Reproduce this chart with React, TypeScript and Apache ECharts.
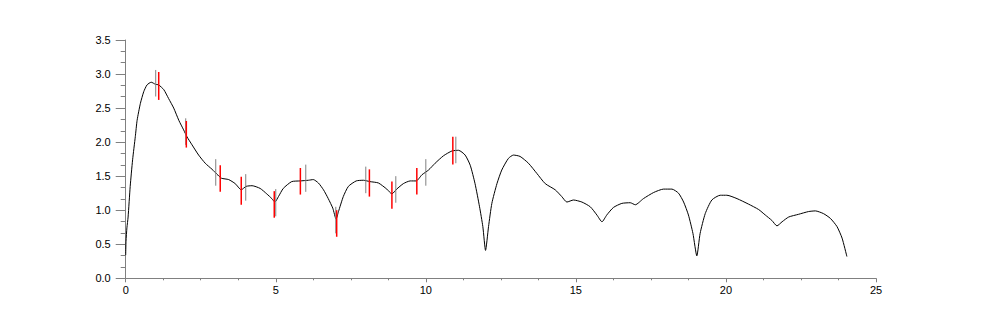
import React, { useEffect, useRef } from "react";
import * as echarts from "echarts";

const curveX = [
  0, 0.01, 0.04, 0.08, 0.15, 0.23, 0.32, 0.38, 0.49, 0.6, 0.71, 0.85, 0.99, 1.1, 1.27, 1.43, 1.6, 1.77, 1.93,
  2.04, 2.21, 2.43, 2.65, 2.88, 3.04, 3.19, 3.43, 3.65, 3.85, 4.01, 4.21, 4.48, 4.7, 4.87, 4.97, 5.09,
  5.25, 5.53, 5.81, 6.09, 6.25, 6.42, 6.59, 6.75, 6.9, 7.01, 7.09, 7.25, 7.42, 7.68, 7.92, 8.14, 8.42,
  8.7, 8.87, 9.03, 9.25, 9.48, 9.68, 9.87, 10.09, 10.31, 10.59, 10.87, 11.09, 11.31, 11.48, 11.64,
  11.79, 11.9, 11.99, 12.09, 12.2, 12.37, 12.53, 12.75, 12.92, 13.14, 13.42, 13.7, 13.98, 14.31,
  14.53, 14.7, 14.92, 15.2, 15.48, 15.7, 15.87, 16.03, 16.25, 16.53, 16.81, 16.98, 17.25, 17.59,
  17.92, 18.2, 18.42, 18.59, 18.75, 18.9, 19.03, 19.14, 19.31, 19.53, 19.81, 20.03, 20.37, 20.75,
  21.09, 21.31, 21.53, 21.7, 21.87, 22.09, 22.42, 22.75, 22.98, 23.25, 23.48, 23.7, 23.87, 24.03,
];
const curveY = [
  0.34, 0.54, 0.74, 0.9, 1.35, 1.74, 2.08, 2.32, 2.57, 2.74, 2.84, 2.88, 2.85, 2.84, 2.77, 2.64, 2.5, 2.32, 2.18,
  2.08, 1.96, 1.81, 1.69, 1.6, 1.53, 1.47, 1.45, 1.39, 1.3, 1.35, 1.36, 1.32, 1.24, 1.17, 1.12, 1.2,
  1.32, 1.42, 1.43, 1.44, 1.45, 1.4, 1.3, 1.17, 1.03, 0.87, 0.98, 1.2, 1.35, 1.43, 1.44, 1.42, 1.4,
  1.31, 1.24, 1.31, 1.39, 1.43, 1.43, 1.52, 1.59, 1.69, 1.8, 1.87, 1.88, 1.81, 1.66, 1.39,
  1.05, 0.76, 0.41, 0.76, 1.1, 1.39, 1.59, 1.76, 1.81, 1.79, 1.69, 1.54, 1.39, 1.3,
  1.2, 1.12, 1.15, 1.12, 1.05, 0.93, 0.83, 0.93, 1.04, 1.1, 1.11, 1.08, 1.17, 1.26,
  1.31, 1.31, 1.25, 1.12, 0.93, 0.66, 0.33, 0.66, 0.95, 1.15, 1.22, 1.22, 1.17, 1.09,
  1.01, 0.93, 0.85, 0.77, 0.83, 0.9, 0.94, 0.98, 0.99, 0.95, 0.88, 0.76, 0.59, 0.32,
];

const grayX = [1, 2, 3, 4, 5, 6, 7, 8, 9, 10, 11];
const grayLow = [2.67, 1.96, 1.36, 1.14, 0.91, 1.27, 0.66, 1.25, 1.11, 1.36, 1.69];
const grayHigh = [3.06, 2.35, 1.75, 1.53, 1.31, 1.67, 1.05, 1.64, 1.5, 1.75, 2.08];

const redX = [1.1, 2.02, 3.15, 3.85, 4.95, 5.82, 7.03, 8.12, 8.87, 9.7, 10.9];
const redLow = [2.62, 1.92, 1.27, 1.08, 0.89, 1.23, 0.61, 1.2, 1.02, 1.23, 1.67];
const redHigh = [3.03, 2.31, 1.66, 1.49, 1.28, 1.62, 1.0, 1.6, 1.42, 1.62, 2.08];

const AXIS = "#808080";
const FONT = "Liberation Sans, Arial, sans-serif";

function errSeries(xs: number[], lo: number[], hi: number[], color: string, width: number) {
  return {
    type: "custom",
    data: xs.map((x, i) => [x, lo[i], hi[i]]),
    encode: { x: 0, y: [1, 2] },
    renderItem: (params: any, api: any) => {
      const p1 = api.coord([api.value(0), api.value(1)]);
      const p2 = api.coord([api.value(0), api.value(2)]);
      return {
        type: "line",
        shape: { x1: p1[0], y1: p1[1], x2: p2[0], y2: p2[1] },
        style: { stroke: color, lineWidth: width },
      };
    },
    z: 3,
  };
}

export default function App() {
  const ref = useRef<HTMLDivElement>(null);
  useEffect(() => {
    if (!ref.current) return;
    const chart = echarts.init(ref.current, undefined, { renderer: "svg" });
    chart.setOption({
      animation: false,
      backgroundColor: "#ffffff",
      grid: { left: 125.7, right: 126, top: 40, bottom: 38.7, containLabel: false },
      xAxis: {
        type: "value",
        min: 0,
        max: 25,
        interval: 5,
        axisLine: { show: true, lineStyle: { color: AXIS, width: 1 } },
        axisTick: { show: true, length: 4, lineStyle: { color: AXIS } },
        minorTick: { show: true, splitNumber: 4, length: 2, lineStyle: { color: AXIS } },
        splitLine: { show: false },
        axisLabel: { color: "#000", fontFamily: FONT, fontSize: 11, margin: 6 },
      },
      yAxis: {
        type: "value",
        min: 0,
        max: 3.5,
        interval: 0.5,
        axisLine: { show: true, lineStyle: { color: AXIS, width: 1 } },
        axisTick: { show: true, length: 10, lineStyle: { color: AXIS } },
        minorTick: { show: true, splitNumber: 3, length: 5, lineStyle: { color: AXIS } },
        splitLine: { show: false },
        axisLabel: {
          color: "#000",
          fontFamily: FONT,
          fontSize: 11,
          margin: 15,
          formatter: (v: number) => v.toFixed(1),
        },
      },
      series: [
        {
          type: "line",
          data: curveX.map((x, i) => [x, curveY[i]]),
          showSymbol: false,
          smooth: 0.2,
          lineStyle: { color: "#000", width: 1 },
          z: 2,
        },
        errSeries(grayX, grayLow, grayHigh, "#808080", 1),
        errSeries(redX, redLow, redHigh, "#ff0000", 1.5),
      ],
    });
    return () => chart.dispose();
  }, []);
  return (
    <div
      ref={ref}
      style={{ position: "absolute", left: 0, top: 0, width: 1002, height: 317, background: "#fff" }}
    />
  );
}
